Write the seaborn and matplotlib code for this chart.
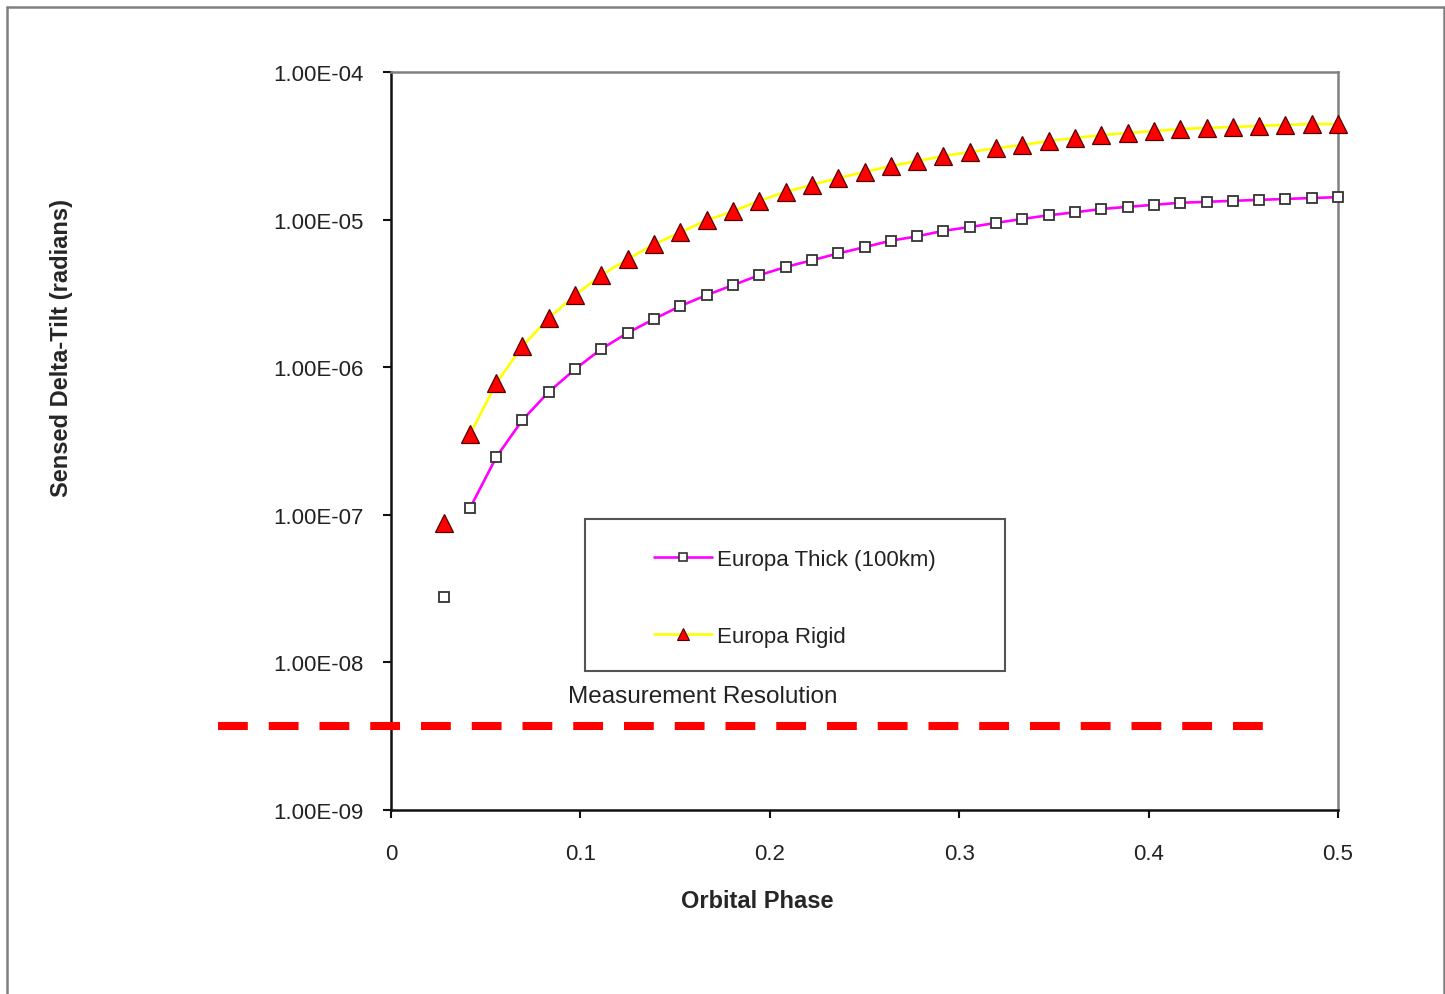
import matplotlib
matplotlib.use("Agg")
import matplotlib.pyplot as plt
from matplotlib.lines import Line2D
from matplotlib.patches import Rectangle
from matplotlib.ticker import FuncFormatter, FixedLocator, NullLocator
import seaborn as sns
import pandas as pd

# ---- data ----
phase = [0.0278, 0.0417, 0.0556, 0.0694, 0.0833, 0.0972, 0.1111, 0.1250, 0.1389,
         0.1528, 0.1667, 0.1806, 0.1944, 0.2083, 0.2222, 0.2361, 0.2500, 0.2639,
         0.2778, 0.2917, 0.3056, 0.3194, 0.3333, 0.3472, 0.3611, 0.3750, 0.3889,
         0.4028, 0.4167, 0.4306, 0.4444, 0.4583, 0.4722, 0.4861, 0.5000]
thick = [2.77e-8, 1.11e-7, 2.46e-7, 4.39e-7, 6.8e-7, 9.7e-7, 1.33e-6, 1.71e-6, 2.12e-6,
         2.6e-6, 3.08e-6, 3.6e-6, 4.2e-6, 4.77e-6, 5.3e-6, 5.9e-6, 6.5e-6, 7.2e-6,
         7.7e-6, 8.4e-6, 8.9e-6, 9.5e-6, 1.01e-5, 1.07e-5, 1.12e-5, 1.18e-5, 1.22e-5,
         1.26e-5, 1.30e-5, 1.32e-5, 1.34e-5, 1.36e-5, 1.38e-5, 1.40e-5, 1.42e-5]
rigid = [8.8e-8, 3.5e-7, 7.8e-7, 1.39e-6, 2.15e-6, 3.08e-6, 4.2e-6, 5.4e-6, 6.8e-6,
         8.2e-6, 9.9e-6, 1.14e-5, 1.34e-5, 1.54e-5, 1.72e-5, 1.91e-5, 2.10e-5, 2.31e-5,
         2.49e-5, 2.70e-5, 2.87e-5, 3.05e-5, 3.2e-5, 3.41e-5, 3.57e-5, 3.74e-5, 3.86e-5,
         3.98e-5, 4.11e-5, 4.18e-5, 4.24e-5, 4.31e-5, 4.38e-5, 4.44e-5, 4.44e-5]
series_names = ["Europa Thick (100km)", "Europa Rigid"]
resolution_x = [-0.0913, 0.4615]
resolution_y = [3.7e-9, 3.7e-9]
resolution_label = "Measurement Resolution"
x_ticks = [0, 0.1, 0.2, 0.3, 0.4, 0.5]
y_ticks = [1e-9, 1e-8, 1e-7, 1e-6, 1e-5, 1e-4]

sns.set_style("white")
plt.rcParams['font.family'] = ['Liberation Sans', 'DejaVu Sans']

fig = plt.figure(figsize=(14.45, 9.95), dpi=100)
fig.patch.set_facecolor("white")
ax = fig.add_axes([391/1445, 1-811/995, (1338-391)/1445, (811-73)/995])

df_thick = pd.DataFrame({"x": phase, "y": thick})
df_rigid = pd.DataFrame({"x": phase, "y": rigid})

# connecting lines (start from the second point)
sns.lineplot(data=df_thick.iloc[1:], x="x", y="y", ax=ax, color="#FF00FF",
             linewidth=1.9, zorder=2, estimator=None, sort=False)
sns.lineplot(data=df_rigid.iloc[1:], x="x", y="y", ax=ax, color="#FFFF00",
             linewidth=1.9, zorder=2, estimator=None, sort=False)
# markers
ax.plot(df_thick["x"], df_thick["y"], linestyle="none", marker="s", markersize=7.5,
        markerfacecolor="white", markeredgecolor="#333333", markeredgewidth=1.3,
        zorder=4, clip_on=False)
ax.plot(df_rigid["x"], df_rigid["y"], linestyle="none", marker="^", markersize=13,
        markerfacecolor="#FF0000", markeredgecolor="#550000", markeredgewidth=0.9,
        zorder=5, clip_on=False)

# measurement resolution line
ax.plot(resolution_x, resolution_y, color="#FF0000", linewidth=5.8,
        linestyle=(0, (3.7, 2.6)), solid_capstyle="butt", dash_capstyle="butt",
        clip_on=False, zorder=3)
ax.text(0.1647, 5.9e-9, resolution_label, ha="center", va="center",
        fontsize=17.5, color="#222222")

ax.set_yscale("log")
ax.set_xlim(0, 0.5)
ax.set_ylim(1e-9, 1e-4)
ax.xaxis.set_major_locator(FixedLocator(x_ticks))
ax.yaxis.set_major_locator(FixedLocator(y_ticks))
ax.yaxis.set_minor_locator(NullLocator())
ax.xaxis.set_major_formatter(FuncFormatter(lambda v, p: "0" if v == 0 else f"{v:g}"))
ax.yaxis.set_major_formatter(FuncFormatter(lambda v, p: f"{v:.2E}"))
ax.tick_params(axis="both", which="major", direction="out", length=6, width=1.5,
               color="#111111", labelsize=16, labelcolor="#222222",
               bottom=True, left=True, top=False, right=False)
ax.tick_params(axis="x", pad=17.5)
ax.tick_params(axis="y", pad=14)
ax.set_xlabel("Orbital Phase", fontsize=17, fontweight="bold", labelpad=0)
ax.xaxis.set_label_coords(0.3866, (811-902)/(811-73), transform=ax.transAxes)
ax.xaxis.label.set_va("center")
ax.set_ylabel("Sensed Delta-Tilt (radians)", fontsize=17, fontweight="bold")
ax.yaxis.set_label_coords((62-391)/(1338-391), (811-348)/(811-73))
ax.yaxis.label.set_va("center")

for side in ["left", "bottom"]:
    ax.spines[side].set_color("#111111")
    ax.spines[side].set_linewidth(1.8)
for side in ["top", "right"]:
    ax.spines[side].set_color("#808080")
    ax.spines[side].set_linewidth(1.8)
ax.spines["left"].set_zorder(1)

# legend box and entries
fig.add_artist(Rectangle((585/1445, 1-672/995), 420/1445, 152/995,
                         transform=fig.transFigure, facecolor="white",
                         edgecolor="#555555", linewidth=1.5, zorder=6))
handles = [
    Line2D([0], [0], color="#FF00FF", linewidth=1.9, marker="s", markersize=6,
           markerfacecolor="white", markeredgecolor="#333333", markeredgewidth=1.2),
    Line2D([0], [0], color="#FFFF00", linewidth=1.9, marker="^", markersize=8,
           markerfacecolor="#FF0000", markeredgecolor="#550000", markeredgewidth=0.8),
]
leg = fig.legend(handles, series_names, loc="center",
                 bbox_to_anchor=(795/1445, 1-599/995), frameon=False,
                 fontsize=16, handlelength=2.6, handletextpad=0.25,
                 labelspacing=2.5)
leg.set_zorder(7)
for t in leg.get_texts():
    t.set_color("#222222")

# outer chart border
for xs, ys in [([7/1445, 7/1445], [0, 1-8/995]),
               ([7/1445, 1444/1445], [1-8/995, 1-8/995]),
               ([1444/1445, 1444/1445], [0, 1-8/995])]:
    fig.add_artist(Line2D(xs, ys, transform=fig.transFigure, color="#808080",
                          linewidth=1.8))

fig.savefig("out.png", dpi=100, facecolor="white")
